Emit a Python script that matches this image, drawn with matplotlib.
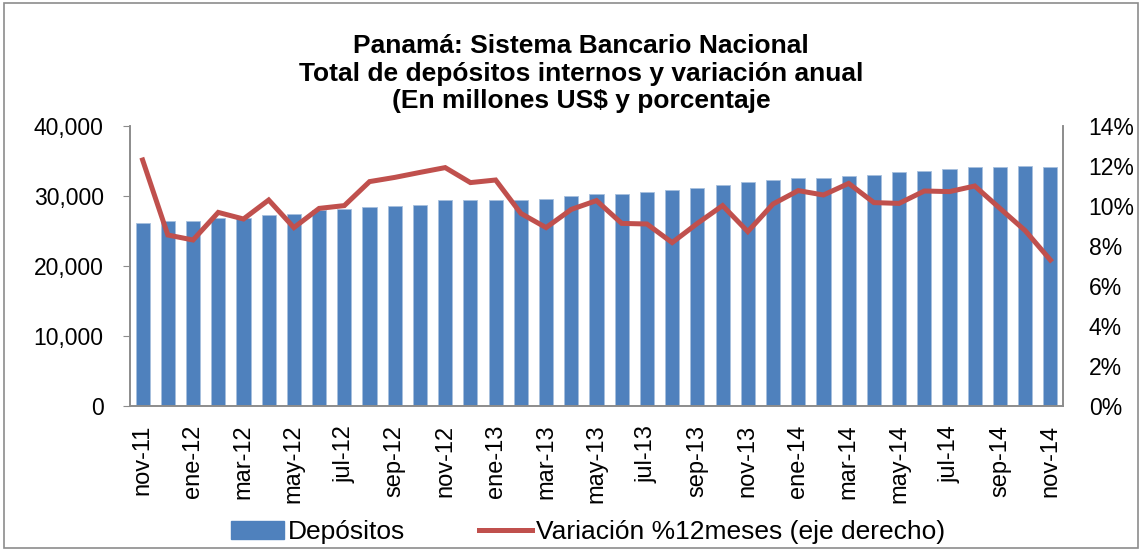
import matplotlib
matplotlib.use("Agg")
import matplotlib.pyplot as plt
from matplotlib.patches import Rectangle, Patch
from matplotlib.lines import Line2D
from matplotlib.ticker import FuncFormatter, MultipleLocator

# Meses nov-11 .. nov-14
meses = ["nov-11", "dic-11", "ene-12", "feb-12", "mar-12", "abr-12", "may-12", "jun-12",
         "jul-12", "ago-12", "sep-12", "oct-12", "nov-12", "dic-12", "ene-13", "feb-13",
         "mar-13", "abr-13", "may-13", "jun-13", "jul-13", "ago-13", "sep-13", "oct-13",
         "nov-13", "dic-13", "ene-14", "feb-14", "mar-14", "abr-14", "may-14", "jun-14",
         "jul-14", "ago-14", "sep-14", "oct-14", "nov-14"]

# Depositos internos (millones US$)
depositos = [26200, 26430, 26430, 26900, 26900, 27330, 27470, 27950,
             28100, 28480, 28520, 28670, 29380, 29380, 29380, 29480,
             29570, 30000, 30290, 30330, 30620, 30810, 31140, 31520,
             31950, 32330, 32520, 32570, 32860, 33050, 33380, 33570,
             33860, 34190, 34140, 34240, 34190]

# Variacion % 12 meses
variacion = [12.3, 8.55, 8.3, 9.68, 9.35, 10.3, 8.92, 9.88,
             10.02, 11.22, 11.43, 11.68, 11.92, 11.17, 11.3, 9.63,
             8.92, 9.83, 10.27, 9.13, 9.1, 8.17, 9.13, 10.02,
             8.72, 10.1, 10.77, 10.55, 11.13, 10.17, 10.13, 10.75,
             10.72, 11.0, 9.88, 8.77, 7.3]

azul = "#4F81BD"
rojo = "#C0504D"
gris = "#8C8C8C"

plt.rcParams['font.family'] = ['Liberation Sans', 'DejaVu Sans']

fig = plt.figure(figsize=(11.43, 5.5), dpi=100)
ax = fig.add_axes([130 / 1143, 1 - 406 / 550, (1063 - 130) / 1143, (406 - 126) / 550])
ax2 = ax.twinx()

x = list(range(len(meses)))
ax.bar(x, depositos, width=0.56, color=azul, edgecolor="#A7C0DE", linewidth=0.6, zorder=2)
ax2.plot(x, variacion, color=rojo, linewidth=3.6, solid_joinstyle="miter", zorder=3)

ax.set_xlim(-0.5, len(meses) - 0.5)
ax.set_ylim(0, 40000)
ax2.set_ylim(0, 14)

ax.yaxis.set_major_locator(MultipleLocator(10000))
ax.yaxis.set_major_formatter(FuncFormatter(lambda v, p: f"{int(v):,}"))
ax2.yaxis.set_major_locator(MultipleLocator(2))
ax2.yaxis.set_major_formatter(FuncFormatter(lambda v, p: f"{int(v)}%"))

ax.set_xticks(x[::2])
ax.set_xticklabels(meses[::2], rotation=90, fontsize=17)
ax.tick_params(axis="x", which="major", length=0, pad=13.5)
ax.tick_params(axis="y", labelsize=16.5, length=5, color=gris, pad=14)
ax2.tick_params(axis="y", labelsize=16.5, length=0, pad=18.5)

for a in (ax, ax2):
    a.spines["top"].set_visible(False)
    for s in ("left", "right", "bottom"):
        a.spines[s].set_color(gris)
        a.spines[s].set_linewidth(1.2)

titulo = ["Panamá: Sistema Bancario Nacional",
          "Total de depósitos internos y variación anual",
          "(En millones US\\$ y porcentaje"]
for i, t in enumerate(titulo):
    fig.text(581 / 1143, 1 - (46 + 27.5 * i) / 550, t, ha="center", va="center",
             fontsize=19, fontweight="bold")

handles = [Patch(facecolor=azul, edgecolor=azul),
           Line2D([0], [0], color=rojo, linewidth=3.6)]
fig.legend(handles, ["Depósitos", "Variación %12meses (eje derecho)"],
           loc="center", bbox_to_anchor=(588 / 1143, 1 - 532 / 550), ncol=2,
           frameon=False, fontsize=19, handlelength=2.0, handletextpad=0.15,
           columnspacing=2.8)

fig.patches.append(Rectangle((4 / 1143, 2 / 550), 1134 / 1143, 545 / 550,
                             transform=fig.transFigure, fill=False,
                             edgecolor=gris, linewidth=1.2))

fig.savefig("out.png", dpi=100)
